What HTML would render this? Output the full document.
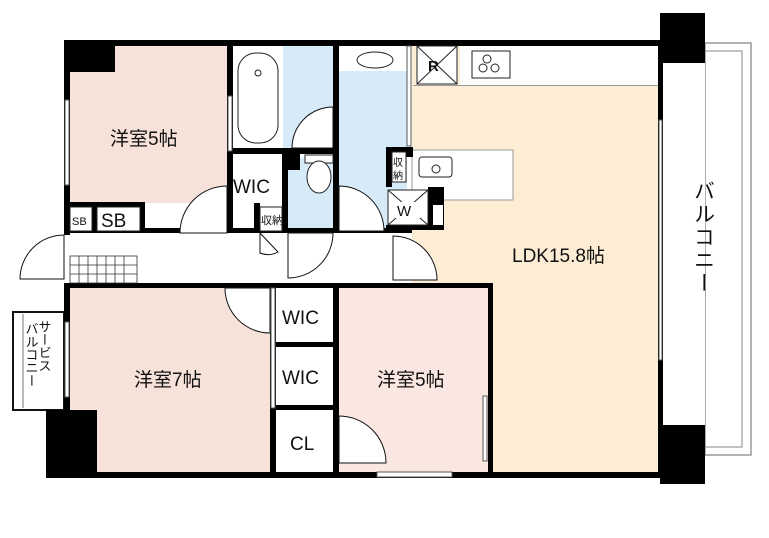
<!DOCTYPE html>
<html><head><meta charset="utf-8"><style>
html,body{margin:0;padding:0;background:#fff;width:769px;height:538px;overflow:hidden}
svg{display:block}
text{font-family:"Liberation Sans","Noto Sans CJK JP",sans-serif;fill:#111}
.v{writing-mode:vertical-rl}
</style></head><body>
<svg width="769" height="538" viewBox="0 0 769 538" xmlns="http://www.w3.org/2000/svg">
<rect x="70" y="46" width="158" height="157" fill="#f7e2d9"/>
<rect x="233" y="46" width="50" height="102" fill="#fff"/>
<rect x="283" y="46" width="50" height="102" fill="#d7eaf8"/>
<rect x="339" y="46" width="68" height="184" fill="#d7eaf8"/>
<rect x="339" y="46" width="68" height="25" fill="#fff"/>
<rect x="412" y="46" width="248" height="426" fill="#fdedd4"/>
<rect x="460" y="46" width="198" height="39" fill="#fff"/>
<rect x="417" y="46" width="40" height="38" fill="#fff"/>
<rect x="288" y="158" width="45" height="72" fill="#d7eaf8"/>
<rect x="412" y="150" width="101" height="50" fill="#fff" stroke="#999" stroke-width="1"/>
<rect x="70" y="288" width="200" height="184" fill="#f7e2d9"/>
<rect x="339" y="288" width="149" height="184" fill="#fbe7e1"/>
<rect x="493" y="283" width="167" height="189" fill="#fdedd4"/>
<rect x="705" y="43" width="46" height="412" fill="none" stroke="#999" stroke-width="1.5"/>
<rect x="705" y="51" width="37" height="396" fill="none" stroke="#999" stroke-width="1.2"/>
<rect x="663" y="63" width="42" height="362" fill="#fff"/>
<rect x="13" y="312" width="51" height="98" fill="#fff" stroke="#111" stroke-width="2"/>
<line x1="23" y1="314" x2="23" y2="408" stroke="#777"/>
<g fill="#000">
<rect x="64" y="40" width="596" height="6"/>
<rect x="64" y="40" width="51" height="32"/>
<rect x="64" y="40" width="6" height="195"/>
<rect x="660" y="13" width="45" height="50"/>
<rect x="658" y="40" width="5" height="432"/>
<rect x="660" y="425" width="45" height="59"/>
<rect x="227" y="40" width="6" height="193"/>
<rect x="333" y="40" width="6" height="193"/>
<rect x="233" y="148" width="106" height="6"/>
<rect x="282" y="148" width="18" height="22"/>
<rect x="282" y="148" width="6" height="85"/>
<rect x="254" y="203" width="6" height="30"/>
<rect x="64" y="228" width="348" height="5"/>
<rect x="64" y="202" width="78" height="5"/>
<rect x="140" y="202" width="5" height="31"/>
<rect x="92" y="202" width="5" height="31"/>
<rect x="386" y="147" width="27" height="10"/>
<rect x="386" y="147" width="6" height="40"/>
<rect x="428" y="187" width="16" height="42"/>
<rect x="386" y="225" width="58" height="5"/>
<rect x="64" y="283" width="428" height="5"/>
<rect x="64" y="283" width="6" height="195"/>
<rect x="46" y="410" width="51" height="68"/>
<rect x="270" y="288" width="6" height="184"/>
<rect x="333" y="288" width="6" height="184"/>
<rect x="276" y="342" width="57" height="5"/>
<rect x="276" y="405" width="57" height="5"/>
<rect x="488" y="283" width="5" height="189"/>
<rect x="46" y="472" width="617" height="6"/>
</g>
<rect x="433" y="205" width="10" height="20" fill="#fff"/>
<g fill="#fff" stroke="#555" stroke-width="1">
<rect x="65" y="100" width="4" height="85"/>
<rect x="659" y="120" width="3" height="240"/>
<rect x="65" y="322" width="4" height="75"/>
<rect x="377" y="472" width="75" height="5"/>
<rect x="483" y="396" width="4" height="65"/>
<rect x="271" y="288" width="4" height="120"/>
<rect x="407" y="46" width="4" height="100"/>
<rect x="228" y="96" width="4" height="55"/>
</g>
<g fill="#fff" stroke="#111" stroke-width="1">
<path d="M180 233 A47 47 0 0 1 227 186 L227 233 Z"/>
<path d="M292 148 A41 41 0 0 1 333 107 L333 148 Z"/>
<path d="M339 186 A45 45 0 0 1 384 231 L339 231 Z"/>
<path d="M288 233 L288 278 A45 45 0 0 0 333 233 Z" fill="none"/>
<path d="M260 233 L278 252 A20 20 0 0 1 260 253 Z" fill="none"/>
<path d="M64 235 A44 44 0 0 0 20 279 L64 279 Z"/>
<path d="M393 236 A44 44 0 0 1 437 280 L393 280 Z"/>
<path d="M225 288 A45 45 0 0 0 270 333 L270 288 Z"/>
<path d="M339 416 A47 47 0 0 1 386 463 L339 463 Z"/>
</g>
<g stroke="#333" stroke-width="0.8">
<rect x="70" y="256" width="67" height="27" fill="#fff"/>
<line x1="70" y1="265" x2="137" y2="265"/><line x1="70" y1="274" x2="137" y2="274"/>
<line x1="79" y1="256" x2="79" y2="283"/><line x1="88" y1="256" x2="88" y2="283"/><line x1="97" y1="256" x2="97" y2="283"/><line x1="106" y1="256" x2="106" y2="283"/><line x1="115" y1="256" x2="115" y2="283"/><line x1="124" y1="256" x2="124" y2="283"/>
</g>
<g fill="#fff" stroke="#222" stroke-width="1">
<rect x="238" y="53" width="40" height="90" rx="18"/>
<circle cx="258" cy="73" r="3"/>
<ellipse cx="375" cy="60" rx="18" ry="8"/>
<rect x="305" y="155" width="28" height="8"/>
<ellipse cx="319" cy="177" rx="12" ry="16"/>
<rect x="417" y="46" width="40" height="38"/>
<line x1="417" y1="46" x2="457" y2="84"/><line x1="457" y1="46" x2="417" y2="84"/>
<rect x="472" y="51" width="38" height="27"/>
<circle cx="487" cy="59" r="4"/><circle cx="483" cy="68" r="4"/><circle cx="495" cy="68" r="4"/>
<rect x="419" y="157" width="33" height="20" rx="3"/>
<circle cx="436" cy="169" r="4"/>
<rect x="388" y="190" width="40" height="35"/>
<line x1="388" y1="190" x2="428" y2="225"/><line x1="428" y1="190" x2="388" y2="225"/>
<rect x="392" y="152" width="14" height="30"/>
<rect x="260" y="207" width="22" height="24"/>
<rect x="70" y="207" width="22" height="24"/>
<rect x="97" y="207" width="43" height="24"/>
</g>
<rect x="390" y="202" width="30" height="16" fill="#fff"/>
<rect x="413" y="85" width="245" height="1" fill="#999"/>
<text x="110" y="145" font-size="19">洋室5帖</text>
<text x="233" y="193" font-size="19">WIC</text>
<text x="261" y="224" font-size="11">収納</text>
<text x="428" y="71" font-size="15" font-weight="bold">R</text>
<text x="397" y="216" font-size="15">W</text>
<text x="393" y="166" font-size="10">収</text>
<text x="393" y="179" font-size="10">納</text>
<text x="72" y="225" font-size="11">SB</text>
<text x="101" y="227" font-size="19">SB</text>
<text x="512" y="262" font-size="19">LDK15.8帖</text>
<text x="134" y="386" font-size="19">洋室7帖</text>
<text x="282" y="324" font-size="19">WIC</text>
<text x="282" y="384" font-size="19">WIC</text>
<text x="290" y="450" font-size="19">CL</text>
<text x="377" y="386" font-size="19">洋室5帖</text>
<text class="v" x="703" y="180" font-size="21" letter-spacing="2">バルコニー</text>
<text class="v" x="44" y="320" font-size="13">サービス</text>
<text class="v" x="31" y="322" font-size="13">バルコニー</text>
</svg>
</body></html>
